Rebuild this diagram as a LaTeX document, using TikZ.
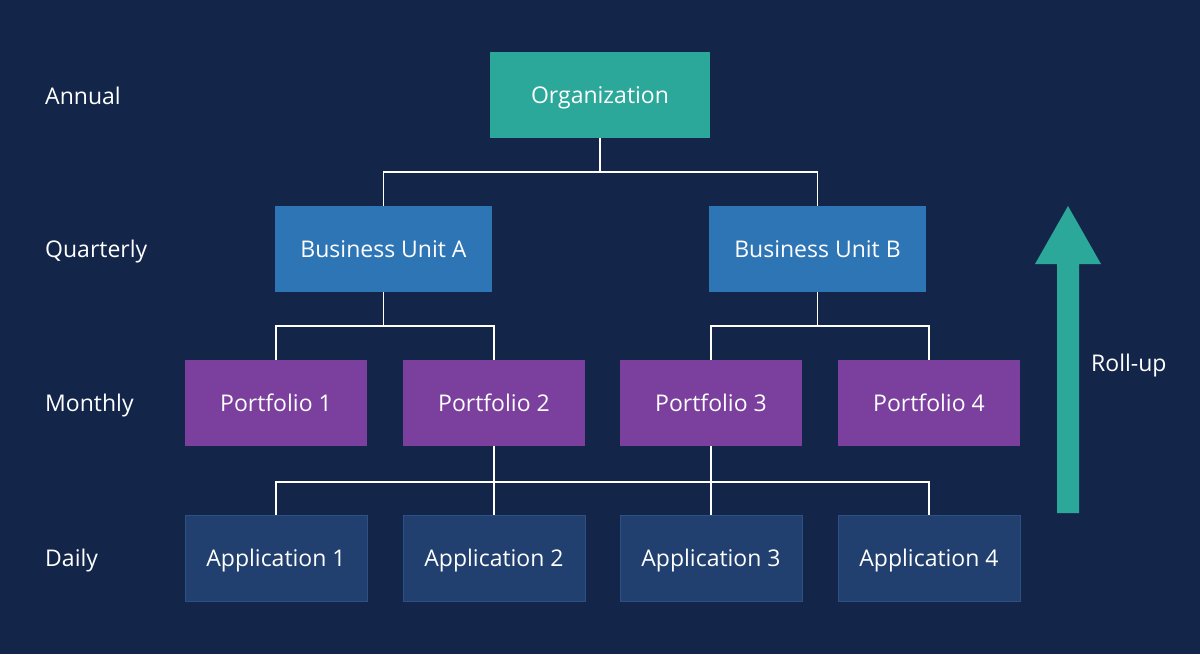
\documentclass[tikz,border=0pt]{standalone}
\usepackage{fontspec}
\setmainfont{Open Sans}
\definecolor{bg}{HTML}{13264A}
\definecolor{teal}{HTML}{2BA89A}
\definecolor{bu}{HTML}{2E75B6}
\definecolor{pf}{HTML}{7B3F9E}
\definecolor{app}{HTML}{21406F}
\definecolor{appb}{HTML}{2D5085}
\begin{document}
\begin{tikzpicture}[x=1pt,y=-1pt,
  box/.style={minimum height=86pt,inner sep=0pt,text height=16.5pt,text depth=0pt,text=white,font=\fontsize{23}{26}\selectfont},
  lbl/.style={anchor=west,inner sep=0pt,text height=16.5pt,text depth=0pt,text=white,font=\fontsize{23}{26}\selectfont},
  ln/.style={white,line width=1.6pt}]
\fill[bg] (0,0) rectangle (1200,654);
\useasboundingbox (0,0) rectangle (1200,654);
\node[box,fill=teal,minimum width=220pt] (org) at (600,95) {Organization};
\node[box,fill=bu,minimum width=217pt] (bua) at (383.5,249) {Business Unit A};
\node[box,fill=bu,minimum width=217pt] (bub) at (817.5,249) {Business Unit B};
\foreach \i/\x in {1/276,2/494,3/711,4/929}{
  \node[box,fill=pf,minimum width=182pt] (p\i) at (\x,403) {Portfolio \i};
  \node[box,fill=app,draw=appb,line width=1pt,minimum width=182pt] (a\i) at (\x,558) {Application \i};
}
% connectors
\coordinate (j0) at (600,172);
\draw[ln] (org.south) -- (j0);
\draw[ln] (bua.north) |- (j0) -| (bub.north);
\coordinate (ja) at (383.5,326);
\coordinate (jb) at (817.5,326);
\draw[ln] (bua.south) -- (ja); \draw[ln] (bub.south) -- (jb);
\draw[ln] (p1.north) |- (ja) -| (p2.north);
\draw[ln] (p3.north) |- (jb) -| (p4.north);
\coordinate (jl) at (276,482);
\coordinate (jr) at (929,482);
\draw[ln] (p2.south) -- (a2.north);
\draw[ln] (p3.south) -- (a3.north);
\draw[ln] (a1.north) -- (jl) -- (jr) -- (a4.north);
% labels
\node[lbl] (l1) at (45,96) {Annual};
\node[lbl] (l2) at (45,249) {Quarterly};
\node[lbl] (l3) at (45,403) {Monthly};
\node[lbl] (l4) at (45,558) {Daily};
\node[lbl] (ru) at (1091,363) {Roll-up};
% arrow
\fill[teal] (1057,513) -- (1079,513) -- (1079,264) -- (1101,264) -- (1068,206) -- (1035,264) -- (1057,264) -- cycle;
\end{tikzpicture}
\end{document}
